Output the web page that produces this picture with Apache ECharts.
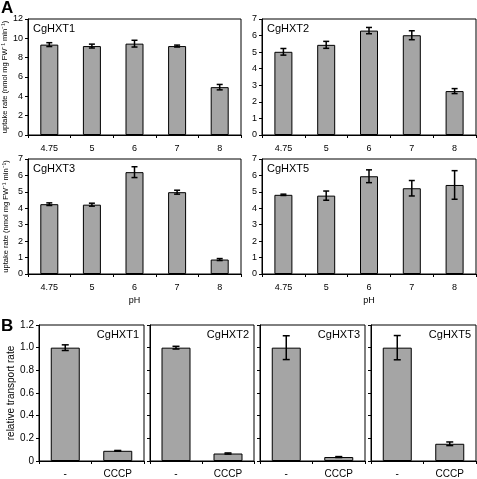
<!DOCTYPE html>
<html><head><meta charset="utf-8">
<script src="https://cdn.jsdelivr.net/npm/echarts@6/dist/echarts.min.js"></script>
<style>html,body{margin:0;padding:0;background:#fff}#c{width:477px;height:479px}</style>
</head><body><div id="c"></div>
<script>
// ---- data ----
const phCats = ['4.75', '5', '6', '7', '8'];
const hxt1 = [9.35, 9.2, 9.45, 9.2, 4.95];
const hxt1Err = [0.2, 0.2, 0.35, 0.1, 0.28];
const hxt2 = [5.02, 5.44, 6.3, 6.02, 2.65];
const hxt2Err = [0.2, 0.21, 0.19, 0.27, 0.15];
const hxt3 = [4.25, 4.22, 6.2, 4.98, 0.88];
const hxt3Err = [0.08, 0.09, 0.33, 0.12, 0.06];
const hxt5 = [4.82, 4.77, 5.95, 5.22, 5.42];
const hxt5Err = [0.04, 0.28, 0.39, 0.47, 0.87];
const bCats = ['-', 'CCCP'];
const bHxt1 = [1.0, 0.09];
const bHxt1Err = [0.025, 0.003];
const bHxt2 = [1.0, 0.066];
const bHxt2Err = [0.012, 0.005];
const bHxt3 = [1.0, 0.035];
const bHxt3Err = [0.105, 0.004];
const bHxt5 = [1.0, 0.152];
const bHxt5Err = [0.107, 0.016];
const aTitles = ['CgHXT1', 'CgHXT2', 'CgHXT3', 'CgHXT5'];
const bTitles = ['CgHXT1', 'CgHXT2', 'CgHXT3', 'CgHXT5'];

const FONT = 'Liberation Sans, Arial, sans-serif';
const BAR = '#a5a5a5';

const aPanels = [
  {vals: hxt1, errs: hxt1Err, max: 12, interval: 2, grid: {left: 28, top: 19, width: 213, height: 116}},
  {vals: hxt2, errs: hxt2Err, max: 7, interval: 1, grid: {left: 262, top: 19, width: 214, height: 116}},
  {vals: hxt3, errs: hxt3Err, max: 7, interval: 1, grid: {left: 28, top: 159, width: 213, height: 115}},
  {vals: hxt5, errs: hxt5Err, max: 7, interval: 1, grid: {left: 262, top: 159, width: 214, height: 115}}
];
const bPanels = [
  {vals: bHxt1, errs: bHxt1Err, grid: {left: 39, top: 325, width: 105, height: 138}},
  {vals: bHxt2, errs: bHxt2Err, grid: {left: 150, top: 325, width: 104, height: 138}},
  {vals: bHxt3, errs: bHxt3Err, grid: {left: 260, top: 325, width: 105, height: 138}},
  {vals: bHxt5, errs: bHxt5Err, grid: {left: 371, top: 325, width: 105, height: 138}}
];

function errRender(cap) {
  return function (params, api) {
    const x = api.value(0), y = api.value(1), e = api.value(2);
    const hi = api.coord([x, y + e]), lo = api.coord([x, y - e]);
    const st = {stroke: '#000', lineWidth: 1.5};
    return {type: 'group', children: [
      {type: 'line', shape: {x1: hi[0], y1: hi[1], x2: lo[0], y2: lo[1]}, style: st},
      {type: 'line', shape: {x1: hi[0] - cap, y1: hi[1], x2: hi[0] + cap, y2: hi[1]}, style: st},
      {type: 'line', shape: {x1: lo[0] - cap, y1: lo[1], x2: lo[0] + cap, y2: lo[1]}, style: st}
    ]};
  };
}

const grids = [], xAxes = [], yAxes = [], series = [], graphics = [];
const axisLine = {show: true, lineStyle: {color: '#000', width: 1}};
const tick = {show: true, length: 3, lineStyle: {color: '#000'}};

aPanels.forEach((p, i) => {
  grids.push(Object.assign({show: true, borderColor: '#000', borderWidth: 1, backgroundColor: '#fff'}, p.grid));
  const left = (i % 2 === 0);
  xAxes.push({type: 'category', gridIndex: i, data: phCats, boundaryGap: true,
    axisLine: axisLine, axisTick: tick,
    axisLabel: {color: '#000', fontFamily: FONT, fontSize: 9, margin: 9},
    name: i >= 2 ? 'pH' : '', nameLocation: 'middle', nameGap: 22,
    nameTextStyle: {color: '#000', fontFamily: FONT, fontSize: 9}});
  yAxes.push({type: 'value', gridIndex: i, min: 0, max: p.max, interval: p.interval,
    axisLine: axisLine, axisTick: tick, splitLine: {show: false},
    axisLabel: {color: '#000', fontFamily: FONT, fontSize: 9, margin: 5},
    name: left ? 'uptake rate (nmol mg FW⁻¹ min⁻¹)' : '', nameLocation: 'middle', nameRotate: 90, nameGap: 18,
    nameTextStyle: {color: '#000', fontFamily: FONT, fontSize: 7.5}});
  series.push({type: 'bar', xAxisIndex: i, yAxisIndex: i, data: p.vals, barWidth: 18,
    itemStyle: {color: BAR, borderColor: '#000', borderWidth: 1}, silent: true});
  series.push({type: 'custom', xAxisIndex: i, yAxisIndex: i, renderItem: errRender(3),
    data: p.vals.map((v, k) => [k, v, p.errs[k]]), encode: {x: 0, y: 1}, z: 5, silent: true});
  graphics.push({type: 'text', left: p.grid.left + 5, top: p.grid.top + 4,
    style: {text: aTitles[i], font: '11px ' + FONT, fill: '#000'}});
});

bPanels.forEach((p, j) => {
  const i = j + 4;
  grids.push(Object.assign({show: true, borderColor: '#000', borderWidth: 1, backgroundColor: '#fff'}, p.grid));
  xAxes.push({type: 'category', gridIndex: i, data: bCats, boundaryGap: true,
    axisLine: axisLine, axisTick: tick,
    axisLabel: {color: '#000', fontFamily: FONT, fontSize: 10, margin: 8}});
  yAxes.push({type: 'value', gridIndex: i, min: 0, max: 1.2, interval: 0.2,
    axisLine: axisLine, axisTick: tick, splitLine: {show: false},
    axisLabel: {show: j === 0, color: '#000', fontFamily: FONT, fontSize: 10, margin: 5,
      formatter: v => v === 0 ? '0' : v.toFixed(1)},
    name: j === 0 ? 'relative transport rate' : '', nameLocation: 'middle', nameRotate: 90, nameGap: 23,
    nameTextStyle: {color: '#000', fontFamily: FONT, fontSize: 10}});
  series.push({type: 'bar', xAxisIndex: i, yAxisIndex: i, data: p.vals, barWidth: 29,
    itemStyle: {color: BAR, borderColor: '#000', borderWidth: 1}, silent: true});
  series.push({type: 'custom', xAxisIndex: i, yAxisIndex: i, renderItem: errRender(3.5),
    data: p.vals.map((v, k) => [k, v, p.errs[k]]), encode: {x: 0, y: 1}, z: 5, silent: true});
  graphics.push({type: 'text', right: 477 - (p.grid.left + p.grid.width) + 5, top: p.grid.top + 4,
    style: {text: bTitles[j], font: '11px ' + FONT, fill: '#000'}});
});

graphics.push({type: 'text', left: 1, top: 0, style: {text: 'A', font: 'bold 17px ' + FONT, fill: '#000'}});
graphics.push({type: 'text', left: 1, top: 318, style: {text: 'B', font: 'bold 17px ' + FONT, fill: '#000'}});

const chart = echarts.init(document.getElementById('c'), null, {renderer: 'canvas'});
chart.setOption({animation: false, backgroundColor: '#fff', grid: grids, xAxis: xAxes, yAxis: yAxes, series: series, graphic: graphics});
</script></body></html>
